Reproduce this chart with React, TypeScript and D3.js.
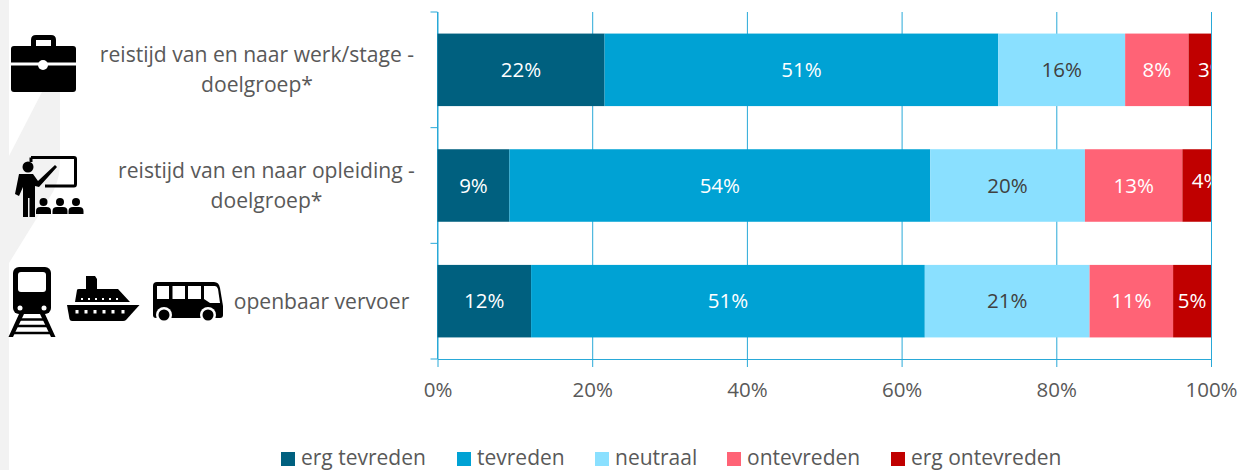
import React, { useEffect, useRef } from 'react';
import * as d3 from 'd3';

const categories = ['werk', 'opleiding', 'ov'];
const categoryLines = [
  ['reistijd van en naar werk/stage -', 'doelgroep*'],
  ['reistijd van en naar opleiding -', 'doelgroep*'],
  ['openbaar vervoer'],
];
const seriesNames = ['erg tevreden', 'tevreden', 'neutraal', 'ontevreden', 'erg ontevreden'];
const seriesColors = ['#00607f', '#00a2d4', '#8ae0ff', '#ff6376', '#c00000'];
const seriesLabelColors = ['#ffffff', '#ffffff', '#404040', '#ffffff', '#ffffff'];

// share per category
const ergTevreden = [21.6, 9.3, 12.1];
const tevreden = [50.9, 54.4, 50.9];
const neutraal = [16.4, 20.0, 21.3];
const ontevreden = [8.2, 12.6, 10.8];
const ergOntevreden = [2.9, 3.7, 4.9];

// the rounded labels printed in the bars
const ergTevredenLabels = ['22%', '9%', '12%'];
const tevredenLabels = ['51%', '54%', '51%'];
const neutraalLabels = ['16%', '20%', '21%'];
const ontevredenLabels = ['8%', '13%', '11%'];
const ergOntevredenLabels = ['3%', '4%', '5%'];

const xTicks = [0, 20, 40, 60, 80, 100];

const FONT = '"Open Sans", sans-serif';
const TEXT = '#595959';
const AXIS = '#29a9d8';

const Briefcase = () => (
  <g>
    <path d="M31 46 V40 Q31 35 36 35 H51 Q56 35 56 40 V46 H51 V40 H36 V46 Z" fill="#000" />
    <path d="M11 49 Q11 46 14 46 H73 Q76 46 76 49 V62.5 H11 Z" fill="#000" />
    <path d="M11 65.5 H76 V89 Q76 92 73 92 H14 Q11 92 11 89 Z" fill="#000" />
    <circle cx="43" cy="65" r="5" fill="#fff" />
  </g>
);

const Teacher = () => (
  <g>
    <path d="M31 157.5 H74 Q75.5 157.5 75.5 159 V184 Q75.5 186 74 186 H45" fill="none" stroke="#000" strokeWidth="3" />
    <path d="M31 157.5 V162" fill="none" stroke="#000" strokeWidth="3" />
    <circle cx="28" cy="167" r="5.5" fill="#000" />
    <path d="M19 174 H33 L38 181 L55 165 L57 167 L39 187 L35 186 V217 H29.5 V198 H28 V217 H23 V187 L19 196 L15 194 Z" fill="#000" />
    {[43.5, 60, 76].map((cx) => (
      <g key={cx}>
        <circle cx={cx} cy={202} r="4" fill="#000" />
        <path d={`M${cx - 7.5} 214 V211 Q${cx - 7.5} 207 ${cx - 3} 207 H${cx + 3} Q${cx + 7.5} 207 ${cx + 7.5} 211 V214 Z`} fill="#000" />
      </g>
    ))}
  </g>
);

const Train = () => (
  <g>
    <rect x="13" y="267" width="38" height="47" rx="6" fill="#000" />
    <rect x="18" y="272" width="28" height="20" rx="3" fill="#fff" />
    <circle cx="20" cy="308" r="2.5" fill="#fff" />
    <circle cx="44" cy="308" r="2.5" fill="#fff" />
    <path d="M19 314 H24 L13 337 H8.5 Z M45 314 H40 L51 337 H55.5 Z" fill="#000" />
    <path d="M19 319.5 H45 M16 326 H48 M12.5 333 H51.5" stroke="#000" strokeWidth="2.4" />
  </g>
);

const Ship = () => (
  <g>
    <path d="M67 305 H139.5 L126 320 Q125 321 123 321 H72 Q70 321 69.5 319 Z" fill="#000" />
    <path d="M75 302 L77 290 Q77 289 79 289 H118 L130 302 Z" fill="#000" />
    <path d="M86 289 V279 H97 V289 Z" fill="#000" />
    <path d="M86 276 H95 L97 279 H86 Z" fill="#000" />
    {[77, 86, 95, 104, 113, 123].map((cx) => (
      <rect key={cx} x={cx - 1.5} y={310} width="3" height="3.5" fill="#fff" />
    ))}
    {[82, 89, 96, 103, 110, 117].map((cx) => (
      <rect key={cx} x={cx - 1} y={298} width="2" height="2" fill="#fff" />
    ))}
  </g>
);

const Bus = () => (
  <g>
    <path d="M157 282 H214 Q219 282 220 288 L223 306 V315 Q223 318 220 318 H156 Q153 318 153 315 V286 Q153 282 157 282 Z" fill="#000" />
    <rect x="157" y="286" width="12" height="13" fill="#fff" />
    <rect x="172.5" y="286" width="12.5" height="13" fill="#fff" />
    <rect x="188" y="286" width="13" height="13" fill="#fff" />
    <path d="M204 286 H215 Q217 286 218 289 L220 303 H210 L204 299 Z" fill="#fff" />
    {[164, 208].map((cx) => (
      <g key={cx}>
        <circle cx={cx} cy={315} r="8" fill="#fff" />
        <circle cx={cx} cy={315} r="5.5" fill="#000" />
      </g>
    ))}
  </g>
);

const App = () => {
  const svgRef = useRef<SVGSVGElement | null>(null);

  useEffect(() => {
    const width = 1240;
    const height = 470;
    const margin = { top: 12, right: 29, bottom: 111, left: 437.5 };

    const svg = d3.select(svgRef.current);
    svg.selectAll('.chart').remove();

    const chart = svg.append('g').attr('class', 'chart');

    const x = d3.scaleLinear().domain([0, 100]).range([margin.left, width - margin.right]);
    const y = d3.scaleBand<string>()
      .domain(categories)
      .range([margin.top, height - margin.bottom])
      .paddingInner(0.373)
      .paddingOuter(0.1865);

    const allValues = [ergTevreden, tevreden, neutraal, ontevreden, ergOntevreden];
    const allLabels = [ergTevredenLabels, tevredenLabels, neutraalLabels, ontevredenLabels, ergOntevredenLabels];

    const rows = categories.map((c, i) => {
      const row: any = { category: c };
      seriesNames.forEach((s, k) => { row[s] = allValues[k][i]; });
      return row;
    });
    const stacked = d3.stack().keys(seriesNames)(rows);

    // gridlines run a little below the plot, like ticks
    const xAxis = d3.axisBottom(x)
      .tickValues(xTicks)
      .tickSize(-(height - margin.bottom - margin.top))
      .tickSizeOuter(0)
      .tickPadding(23)
      .tickFormat((d) => `${d}%`);

    const xG = chart.append('g')
      .attr('transform', `translate(0,${height - margin.bottom})`)
      .call(xAxis);
    xG.selectAll('.tick line')
      .attr('y2', 8)
      .attr('y1', -(height - margin.bottom - margin.top))
      .attr('stroke', AXIS);
    xG.select('.domain').attr('stroke', AXIS);
    xG.selectAll('text')
      .attr('font-family', FONT)
      .attr('font-size', 20.5)
      .attr('fill', TEXT);

    // category ticks: band edges, so they sit between the bars
    const step = y.step();
    const edges = [0, 1, 2, 3].map((i) => margin.top + i * step);
    const yG = chart.append('g');
    yG.append('line')
      .attr('x1', margin.left).attr('x2', margin.left)
      .attr('y1', margin.top).attr('y2', height - margin.bottom)
      .attr('stroke', AXIS);
    yG.selectAll('line.edge')
      .data(edges)
      .join('line')
      .attr('class', 'edge')
      .attr('x1', margin.left - 7)
      .attr('x2', margin.left)
      .attr('y1', (d) => d)
      .attr('y2', (d) => d)
      .attr('stroke', AXIS);

    stacked.forEach((layer, k) => {
      chart.append('g')
        .selectAll('rect')
        .data(layer)
        .join('rect')
        .attr('x', (d) => x(d[0]))
        .attr('y', (_, i) => y(categories[i]) as number)
        .attr('width', (d) => x(d[1]) - x(d[0]))
        .attr('height', y.bandwidth())
        .attr('fill', seriesColors[k]);
    });

    // labels that were pushed off their segment in the original chart
    const nudges: Record<string, [number, number]> = { '4-0': [12.5, 0], '4-1': [9.5, -5] };

    svg.select('defs').remove();
    const clipId = 'plot-clip';
    svg.append('defs')
      .append('clipPath')
      .attr('id', clipId)
      .append('rect')
      .attr('x', margin.left)
      .attr('y', margin.top)
      .attr('width', width - margin.left - margin.right)
      .attr('height', height - margin.top - margin.bottom);

    const labelG = chart.append('g').attr('clip-path', `url(#${clipId})`);
    stacked.forEach((layer, k) => {
      layer.forEach((d, i) => {
        const nudge = nudges[`${k}-${i}`] || [0, 0];
        labelG.append('text')
          .attr('x', (x(d[0]) + x(d[1])) / 2 + nudge[0])
          .attr('y', (y(categories[i]) as number) + y.bandwidth() / 2 + nudge[1])
          .attr('dy', '0.35em')
          .attr('text-anchor', 'middle')
          .attr('font-family', FONT)
          .attr('font-size', 20.5)
          .attr('fill', seriesLabelColors[k])
          .text(allLabels[k][i]);
      });
    });
  }, []);

  const labelCenters = [257, 266.5, 321.5];
  const labelBaselines = [62, 178, 309];
  const legendSwatchX = [281, 457, 595, 727, 891];

  return (
    <svg ref={svgRef} width={1240} height={470} style={{ position: 'absolute', left: 0, top: 0, background: '#fff' }}>
      <rect x="0" y="0" width="9" height="470" fill="#f2f2f2" />
      <path d="M9 156 L42 92 H60 V165 Q59 185 48 200 L9 263 Z" fill="#f2f2f2" />
      <Briefcase />
      <Teacher />
      <Train />
      <Ship />
      <Bus />
      {categoryLines.map((lines, i) => (
        <text key={i} fontFamily={FONT} fontSize={21.1} fill={TEXT} textAnchor="middle">
          {lines.map((line, j) => (
            <tspan key={j} x={labelCenters[i]} y={labelBaselines[i] + j * 30}>{line}</tspan>
          ))}
        </text>
      ))}
      {seriesNames.map((name, i) => (
        <g key={name}>
          <rect x={legendSwatchX[i]} y={452} width={14} height={14} fill={seriesColors[i]} />
          <text x={legendSwatchX[i] + 20} y={465} fontFamily={FONT} fontSize={21} fill={TEXT}>{name}</text>
        </g>
      ))}
    </svg>
  );
};

export default App;
